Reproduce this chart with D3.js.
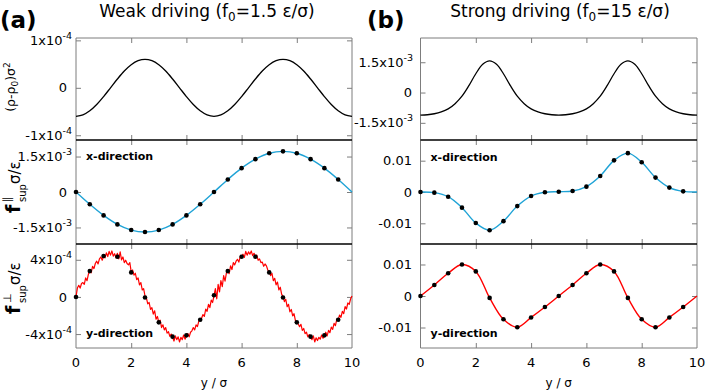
<!DOCTYPE html>
<html><head><meta charset="utf-8">
<script src="https://cdn.jsdelivr.net/npm/d3@7"></script>
<style>body{margin:0;background:#fff}svg{display:block}text{font-family:"DejaVu Sans",sans-serif;fill:#000}</style>
</head><body><svg id="c" width="706" height="391"></svg>
<script>
// ---------------- data ----------------
const yDots = [0,0.5,1,1.5,2,2.5,3,3.5,4,4.5,5,5.5,6,6.5,7,7.5,8,8.5,9,9.5];
const yLine = [0,0.5,1,1.5,2,2.5,3,3.5,4,4.5,5,5.5,6,6.5,7,7.5,8,8.5,9,9.5,10];
const yFine = [0,0.25,0.5,0.75,1,1.25,1.5,1.75,2,2.25,2.5,2.75,3,3.25,3.5,3.75,4,4.25,4.5,4.75,5,5.25,5.5,5.75,6,6.25,6.5,6.75,7,7.25,7.5,7.75,8,8.25,8.5,8.75,9,9.25,9.5,9.75,10];
const noisyStep = 0.05;

// (rho-rho0) sigma^2, weak driving, units 1e-4
const rhoWeak = [-0.600,-0.571,-0.485,-0.353,-0.185,0,0.185,0.353,0.485,0.571,0.600,0.571,0.485,0.353,0.185,0,-0.185,-0.353,-0.485,-0.571,-0.600,
  -0.571,-0.485,-0.353,-0.185,0,0.185,0.353,0.485,0.571,0.600,0.571,0.485,0.353,0.185,0,-0.185,-0.353,-0.485,-0.571,-0.600];
// f_par weak, units 1e-3
const fParWeak = [0,-0.52,-0.99,-1.37,-1.61,-1.69,-1.61,-1.37,-0.99,-0.52,0,0.53,1.01,1.39,1.64,1.72,1.64,1.39,1.01,0.53,0];
// f_perp weak, dots, units 1e-4
const fPerpWeakDots = [0,2.78,4.4,4.32,2.64,-0.06,-2.74,-4.28,-4.14,-2.45,0.18,2.78,4.32,4.32,2.64,-0.06,-2.74,-4.28,-4.14,-2.45];
// f_perp weak, noisy simulation line, units 1e-4
const fPerpWeakNoisy = [0,0.95,1.25,0.95,1.45,1.55,1.35,2.05,1.75,2.45,2.85,
  2.6,3.3,3.05,3.6,3.85,3.55,4.1,4.3,3.95,4.4,
  4.2,4.75,4.35,4.9,4.5,4.95,4.4,4.65,4.2,4.7,
  4.1,4.85,4.0,4.3,3.7,3.95,3.6,3.45,3.7,2.7,
  2.9,2.35,2.55,1.85,2.05,1.3,1.55,0.75,0.9,0.1,
  -0.1,-0.75,-0.6,-1.35,-1.15,-1.85,-1.5,-2.4,-2.1,-2.75,
  -2.5,-3.3,-3.0,-3.55,-3.3,-3.9,-3.75,-4.25,-4.0,-4.35,
  -4.75,-4.2,-4.6,-4.3,-4.85,-4.35,-4.6,-4.1,-4.55,-4.2,
  -3.95,-4.3,-3.8,-3.65,-3.3,-3.55,-3.0,-3.2,-2.6,-2.5,
  -2.3,-1.9,-2.1,-1.3,-1.55,-0.8,-1.15,-0.35,-0.6,0.15,
  0.9,-0.2,1.35,0.55,1.75,1.1,2.3,1.7,2.6,2.85,
  2.5,3.35,2.95,3.7,3.45,3.85,4.05,3.75,4.35,4.35,
  4.6,4.25,4.9,4.5,4.85,4.6,4.95,4.45,4.7,4.4,
  4.5,3.95,4.1,3.7,3.75,3.3,3.55,3.35,2.9,2.7,
  2.3,2.55,1.75,2.0,1.3,1.6,0.75,1.05,0.3,0.05,
  -0.5,-0.25,-1.05,-0.8,-1.6,-1.35,-2.05,-1.8,-2.55,-2.75,
  -2.9,-3.2,-2.95,-3.6,-3.4,-3.95,-3.8,-4.3,-4.05,-4.3,
  -4.6,-4.2,-4.85,-4.4,-4.7,-4.35,-4.55,-4.1,-4.45,-4.15,
  -3.8,-4.2,-3.6,-3.85,-3.25,-3.5,-2.85,-3.1,-2.4,-2.45,
  -1.95,-2.2,-1.55,-1.8,-1.05,-1.3,-0.65,-0.8,-0.2,0.1];
// strong driving, rho units 1e-3
const rhoStrong = [-1.12,-1.10,-1.05,-0.96,-0.81,-0.55,-0.18,0.34,0.93,1.40,1.57,1.40,0.93,0.34,-0.18,-0.55,-0.81,-0.96,-1.05,-1.10,-1.12,
  -1.10,-1.05,-0.96,-0.81,-0.55,-0.18,0.34,0.93,1.40,1.57,1.40,0.93,0.34,-0.18,-0.55,-0.81,-0.96,-1.05,-1.10,-1.12];
// strong driving forces, units 0.01
const fParStrong = [0,-0.02,-0.15,-0.50,-0.99,-1.22,-0.93,-0.45,-0.13,-0.01,0.01,0.03,0.17,0.51,1.01,1.24,0.95,0.46,0.14,0.02,0];
const fPerpStrong = [0,0.35,0.72,1.00,0.78,-0.06,-0.74,-0.99,-0.68,-0.35,0,0.35,0.72,1.00,0.78,-0.06,-0.74,-0.99,-0.68,-0.35,0];

// tick values / labels
const xTickVals = [0,2,4,6,8,10];
const xTickLabels = ["0","2","4","6","8","10"];
const ticksRhoWeak = [-1,0,1];         const labelsRhoWeak = [["-1x10","-4"],["0",""],["1x10","-4"]];
const ticksParWeak = [-1.5,0,1.5];     const labelsParWeak = [["-1.5x10","-3"],["0",""],["1.5x10","-3"]];
const ticksPerpWeak = [-4,0,4];        const labelsPerpWeak = [["-4x10","-4"],["0",""],["4x10","-4"]];
const ticksRhoStrong = [-1.5,0,1.5];   const labelsRhoStrong = [["-1.5x10","-3"],["0",""],["1.5x10","-3"]];
const ticksParStrong = [-1,0,1];       const labelsParStrong = [["-0.01",""],["0",""],["0.01",""]];
const ticksPerpStrong = [-1,0,1];      const labelsPerpStrong = [["-0.01",""],["0",""],["0.01",""]];

// ---------------- drawing ----------------
const svg = d3.select("#c");
const GRAY = "#7d7d7d", CYAN = "#1fa3d6", RED = "#ff0000";
const cols = [{x0:76, x1:352, gapExp:4, gapPlain:9}, {x0:420.5, x1:697, gapExp:7.5, gapPlain:8.5}];
const rows = [{yt:38, yb:140}, {yt:140, yb:244}, {yt:244, yb:348}];

function panel(ci, ri, dom, ticks, labels, draw) {
  const c = cols[ci], r = rows[ri];
  const x = d3.scaleLinear().domain([0,10]).range([c.x0, c.x1]);
  const y = d3.scaleLinear().domain(dom).range([r.yb, r.yt]);
  const g = svg.append("g");
  const styleAx = sel => { sel.select(".domain").remove(); sel.selectAll("line").attr("stroke", GRAY); sel.selectAll("text").remove(); };
  g.append("g").attr("transform",`translate(${c.x0},0)`).call(d3.axisLeft(y).tickValues(ticks).tickSize(-5)).call(styleAx);
  g.append("g").attr("transform",`translate(${c.x1},0)`).call(d3.axisRight(y).tickValues(ticks).tickSize(-5)).call(styleAx);
  g.append("g").attr("transform",`translate(0,${r.yt})`).call(d3.axisTop(x).tickValues([2,4,6,8]).tickSize(-5)).call(styleAx);
  g.append("g").attr("transform",`translate(0,${r.yb})`).call(d3.axisBottom(x).tickValues([2,4,6,8]).tickSize(-5)).call(styleAx);
  g.append("line").attr("x1",c.x0).attr("x2",c.x0).attr("y1",r.yt).attr("y2",r.yb).attr("stroke",GRAY);
  g.append("line").attr("x1",c.x1).attr("x2",c.x1).attr("y1",r.yt).attr("y2",r.yb).attr("stroke",GRAY);
  if (ri === 0) g.append("line").attr("x1",c.x0).attr("x2",c.x1).attr("y1",r.yt).attr("y2",r.yt).attr("stroke",GRAY);
  if (ri === 2) g.append("line").attr("x1",c.x0).attr("x2",c.x1).attr("y1",r.yb).attr("y2",r.yb).attr("stroke",GRAY);
  ticks.forEach((t,i) => {
    const [base, exp] = labels[i];
    const tx = g.append("text").attr("text-anchor","end").attr("font-size",13)
      .attr("x", c.x0 - (exp ? c.gapExp : c.gapPlain)).attr("y", y(t) + 4.6);
    tx.append("tspan").text(base);
    if (exp) tx.append("tspan").attr("font-size",9.5).attr("dy",-6).text(exp);
  });
  draw(g, x, y);
  return {x, y};
}

function smooth(g, x, y, xs, vals, color, w) {
  g.append("path").datum(vals).attr("fill","none").attr("stroke",color).attr("stroke-width",w)
    .attr("d", d3.line().x((d,i)=>x(xs[i])).y(d=>y(d)).curve(d3.curveCatmullRom.alpha(0.5)));
}
function dots(g, x, y, xs, vals) {
  g.selectAll(null).data(vals).enter().append("circle")
    .attr("cx",(d,i)=>x(xs[i])).attr("cy",d=>y(d)).attr("r",2.3).attr("fill","#000");
}
function tag(g, ci, yy, s) {
  g.append("text").attr("x", cols[ci].x0 + 10).attr("y", yy).attr("font-size",11).attr("font-weight","bold").text(s);
}

panel(0,0,[-1.1,1.05],ticksRhoWeak,labelsRhoWeak,(g,x,y)=>smooth(g,x,y,yFine,rhoWeak,"#000",1.3));
panel(0,1,[-2.2,2.2],ticksParWeak,labelsParWeak,(g,x,y)=>{ smooth(g,x,y,yLine,fParWeak,CYAN,1.4); dots(g,x,y,yDots,fParWeak.slice(0,20)); tag(g,0,160,"x-direction"); });
panel(0,2,[-5.5,5.7],ticksPerpWeak,labelsPerpWeak,(g,x,y)=>{
  g.append("path").datum(fPerpWeakNoisy).attr("fill","none").attr("stroke",RED).attr("stroke-width",1.2).attr("stroke-linejoin","round")
    .attr("d", d3.line().x((d,i)=>x(i*noisyStep)).y(d=>y(d)));
  dots(g,x,y,yDots,fPerpWeakDots); tag(g,0,337,"y-direction"); });
panel(1,0,[-2.35,2.7],ticksRhoStrong,labelsRhoStrong,(g,x,y)=>smooth(g,x,y,yFine,rhoStrong,"#000",1.3));
panel(1,1,[-1.66,1.66],ticksParStrong,labelsParStrong,(g,x,y)=>{ smooth(g,x,y,yLine,fParStrong,CYAN,1.4); dots(g,x,y,yDots,fParStrong.slice(0,20)); tag(g,1,160.5,"x-direction"); });
panel(1,2,[-1.65,1.65],ticksPerpStrong,labelsPerpStrong,(g,x,y)=>{ smooth(g,x,y,yLine,fPerpStrong,RED,1.4); dots(g,x,y,yDots,fPerpStrong.slice(0,20)); tag(g,1,336.5,"y-direction"); });

cols.forEach(c => [140,244].forEach(yy =>
  svg.append("line").attr("x1",c.x0).attr("x2",c.x1).attr("y1",yy).attr("y2",yy).attr("stroke","#000").attr("stroke-width",1.4)));

cols.forEach(c => {
  const x = d3.scaleLinear().domain([0,10]).range([c.x0, c.x1]);
  svg.append("g").selectAll("text").data(xTickVals).enter().append("text")
    .attr("x", d=>x(d)).attr("y", 367).attr("text-anchor","middle").attr("font-size",13)
    .text((d,i)=>xTickLabels[i]);
  svg.append("text").attr("x", x(5)).attr("y", 387).attr("text-anchor","middle").attr("font-size",12).text("y / σ");
});

function title(xc, parts) {
  const t = svg.append("text").attr("x", xc).attr("y", 17).attr("text-anchor","middle").attr("font-size",17);
  t.append("tspan").text(parts[0]);
  t.append("tspan").attr("font-size",12).attr("dy",4).text("0");
  t.append("tspan").attr("dy",-4).text(parts[1]);
}
title(207, ["Weak driving (f","=1.5 ε/σ)"]);
title(560, ["Strong driving (f","=15 ε/σ)"]);
svg.append("text").attr("x",0).attr("y",28).attr("font-size",23).attr("font-weight","bold").text("(a)");
svg.append("text").attr("x",367).attr("y",28).attr("font-size",23).attr("font-weight","bold").text("(b)");

{
  const t = svg.append("text").attr("transform","translate(15,87) rotate(-90)").attr("text-anchor","middle").attr("font-size",12.5);
  t.append("tspan").text("(ρ-ρ");
  t.append("tspan").attr("font-size",9).attr("dy",3).text("0");
  t.append("tspan").attr("dy",-3).text(")σ");
  t.append("tspan").attr("font-size",9).attr("dy",-5).text("2");
}
function forceLabel(cy, sym) {
  const g = svg.append("g").attr("transform",`translate(20,${cy}) rotate(-90)`);
  g.append("text").attr("x",0).attr("y",0).attr("font-family","DejaVu Serif").attr("font-weight","bold").attr("font-size",19).text("f");
  g.append("text").attr("x",11).attr("y",-9).attr("font-size",11).text(sym);
  g.append("text").attr("x",11).attr("y",6).attr("font-size",10).text("sup");
  g.append("text").attr("x",29).attr("y",0).attr("font-size",15).text("σ/ε");
}
forceLabel(213, "∥");
forceLabel(314, "⊥");
</script></body></html>
